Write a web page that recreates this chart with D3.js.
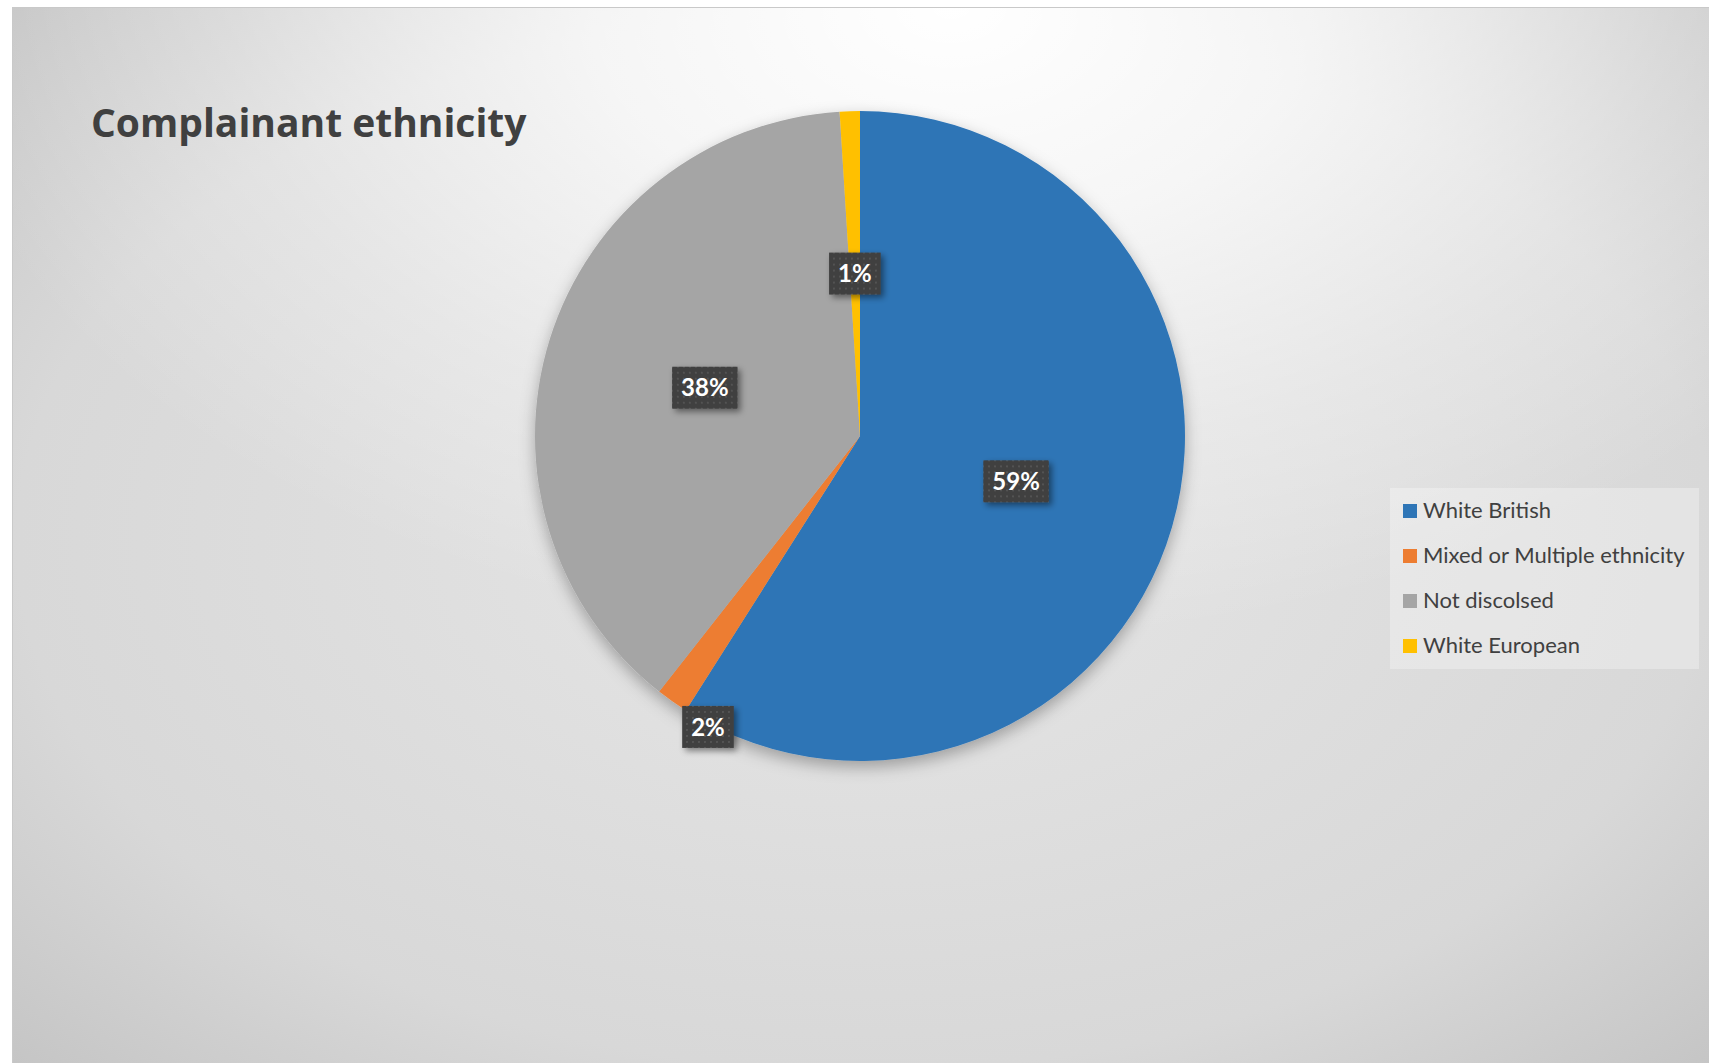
<!DOCTYPE html>
<html>
<head>
<meta charset="utf-8">
<script src="https://cdn.jsdelivr.net/npm/d3@7"></script>
<style>
  body { margin: 0; background: #fff; }
  text { font-family: Lato, "Open Sans", sans-serif; }
</style>
</head>
<body>
<svg id="chart"></svg>
<script>
// data
const categories = ["White British", "Mixed or Multiple ethnicity", "Not discolsed", "White European"];
const shares = [59.0, 1.6, 38.4, 1.0];
const colors = ["#2E75B6", "#ED7D31", "#A5A5A5", "#FFC000"];
const title = "Complainant ethnicity";

const width = 1709;
const height = 1063;
const area = {x: 12, y: 7};
const cx = 860, cy = 436, radius = 325;

const svg = d3.select('#chart')
    .attr('width', width)
    .attr('height', height);

const defs = svg.append('defs');

// background: grey radial base plus a white glow at the top
const base = defs.append('radialGradient')
    .attr('id', 'bg')
    .attr('cx', 0.5).attr('cy', 0.5).attr('r', 0.71);
[[0, '#e6e6e6'], [0.7, '#d8d8d8'], [1, '#c4c4c4']].forEach(function(s) {
  base.append('stop').attr('offset', s[0]).attr('stop-color', s[1]);
});

const glow = defs.append('radialGradient')
    .attr('id', 'glow')
    .attr('cx', 0.55).attr('cy', 0).attr('r', 0.6);
[[0, 1], [0.35, 0.75], [0.7, 0.3], [1, 0]].forEach(function(s) {
  glow.append('stop').attr('offset', s[0])
      .attr('stop-color', '#fff').attr('stop-opacity', s[1]);
});

const pieShadow = defs.append('filter').attr('id', 'pieShadow')
    .attr('x', '-20%').attr('y', '-20%').attr('width', '140%').attr('height', '140%');
pieShadow.append('feDropShadow')
    .attr('dx', 0).attr('dy', 6).attr('stdDeviation', 8)
    .attr('flood-color', '#000').attr('flood-opacity', 0.3);

const boxShadow = defs.append('filter').attr('id', 'boxShadow')
    .attr('x', '-30%').attr('y', '-30%').attr('width', '160%').attr('height', '160%');
boxShadow.append('feDropShadow')
    .attr('dx', 3).attr('dy', 3).attr('stdDeviation', 3)
    .attr('flood-color', '#000').attr('flood-opacity', 0.45);

// dotted fill of the data labels
const pat = defs.append('pattern').attr('id', 'dots')
    .attr('patternUnits', 'userSpaceOnUse')
    .attr('width', 6).attr('height', 6);
pat.append('rect').attr('width', 6).attr('height', 6).attr('fill', '#3f3f3f');
pat.append('rect').attr('x', 2).attr('y', 2).attr('width', 2).attr('height', 2).attr('fill', '#535353');

// chart area
const areaW = width - area.x + 10, areaH = height - area.y + 10;
svg.append('rect')
    .attr('x', area.x + 0.5).attr('y', area.y + 0.5)
    .attr('width', areaW).attr('height', areaH)
    .attr('fill', 'url(#bg)');
svg.append('rect')
    .attr('x', area.x + 0.5).attr('y', area.y + 0.5)
    .attr('width', areaW).attr('height', areaH)
    .attr('fill', 'url(#glow)')
    .attr('stroke', '#c9c9c9');

svg.append('text')
    .attr('x', 91).attr('y', 137)
    .attr('fill', '#404040')
    .style('font-family', '"Open Sans", sans-serif')
    .style('font-size', '39px')
    .style('font-weight', 'bold')
    .text(title);

// pie
const pie = d3.pie().sort(null).value(function(d) { return d; });
const arcs = pie(shares);
const total = d3.sum(shares);
const arc = d3.arc().innerRadius(0).outerRadius(radius);

const g = svg.append('g').attr('transform', 'translate(' + cx + ',' + cy + ')');

g.append('g')
    .attr('filter', 'url(#pieShadow)')
    .selectAll('path')
    .data(arcs)
    .enter()
    .append('path')
    .attr('d', arc)
    .attr('fill', function(d, i) { return colors[i]; });

// label anchor: centroid for big slices, just outside the edge for tiny ones
function labelPos(d) {
  const frac = (d.endAngle - d.startAngle) / (2 * Math.PI);
  if (frac > 0.03 || d.index === arcs.length - 1) {
    return arc.centroid(d);
  }
  const a = d.startAngle - 0.084;
  const r = radius * 1.01;
  return [Math.sin(a) * r, -Math.cos(a) * r];
}

const labels = g.append('g')
    .selectAll('g')
    .data(arcs)
    .enter()
    .append('g')
    .attr('transform', function(d) { return 'translate(' + labelPos(d) + ')'; });

labels.append('rect').attr('class', 'box');
labels.append('text')
    .attr('text-anchor', 'middle')
    .attr('dy', '0.36em')
    .attr('fill', '#fff')
    .style('font-size', '24px')
    .style('font-weight', 'bold')
    .text(function(d) { return Math.round(d.value / total * 100) + '%'; });

labels.each(function() {
  const t = d3.select(this).select('text').node().getComputedTextLength();
  d3.select(this).select('rect')
      .attr('x', -(t + 18) / 2).attr('y', -21)
      .attr('width', t + 18).attr('height', 42)
      .attr('fill', 'url(#dots)')
      .attr('filter', 'url(#boxShadow)');
});

// legend
const legend = svg.append('g').attr('transform', 'translate(1390,488)');
legend.append('rect')
    .attr('width', 309).attr('height', 181)
    .attr('fill', '#fff').attr('fill-opacity', 0.3);

const item = legend.selectAll('g.item')
    .data(categories)
    .enter()
    .append('g')
    .attr('class', 'item')
    .attr('transform', function(d, i) { return 'translate(13,' + (16 + i * 45) + ')'; });

item.append('rect')
    .attr('width', 14).attr('height', 14)
    .attr('fill', function(d, i) { return colors[i]; });
item.append('text')
    .attr('x', 20).attr('y', 14)
    .attr('fill', '#404040')
    .style('font-size', '22px')
    .text(function(d) { return d; });
</script>
</body>
</html>
